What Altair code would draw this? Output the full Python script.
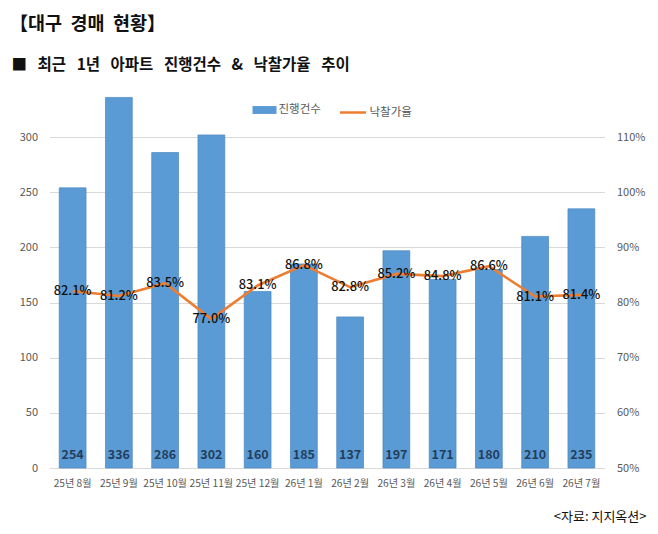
import altair as alt
import pandas as pd

months = ["25년 8월", "25년 9월", "25년 10월", "25년 11월", "25년 12월", "26년 1월",
          "26년 2월", "26년 3월", "26년 4월", "26년 5월", "26년 6월", "26년 7월"]
counts = [254, 336, 286, 302, 160, 185, 137, 197, 171, 180, 210, 235]
rates = [82.1, 81.2, 83.5, 77.0, 83.1, 86.8, 82.8, 85.2, 84.8, 86.6, 81.1, 81.4]
left_ticks = [0, 50, 100, 150, 200, 250, 300]
right_ticks = [50, 60, 70, 80, 90, 100, 110]

title_text = "【대구 경매 현황】"
subtitle_text = "■ 최근 1년 아파트 진행건수 & 낙찰가율 추이"
source_text = "<자료: 지지옥션>"

FONT = "Noto Sans CJK KR"

df = pd.DataFrame({"month": months, "count": counts, "rate": rates})
df["s1"] = "진행건수"
df["s2"] = "낙찰가율"

W, H = 555, 386

xenc = alt.X("month:N", sort=months, title=None,
             scale=alt.Scale(paddingInner=0.42, paddingOuter=0.21),
             axis=alt.Axis(labelAngle=0, ticks=False, domainColor="#D9D9D9",
                           labelFontSize=10.2, labelColor="#595959", labelPadding=10,
                           labelFont=FONT))

base = alt.Chart(df)

bars = base.mark_bar(color="#5B9BD5", stroke="#4A86BF", strokeWidth=0.7).encode(
    x=xenc,
    y=alt.Y("count:Q", title=None, scale=alt.Scale(domain=[0, 350], nice=False),
            axis=alt.Axis(values=left_ticks, ticks=False, domain=False,
                          gridColor="#D9D9D9", labelColor="#595959", labelFontSize=11,
                          labelPadding=12, labelFont=FONT)),
    color=alt.Color("s1:N", title=None,
                    scale=alt.Scale(domain=["진행건수"], range=["#5B9BD5"]),
                    legend=alt.Legend(orient="none", legendX=203, legendY=16,
                                      symbolType="M-1,-0.33H1V0.33H-1Z", symbolSize=576,
                                      symbolStrokeWidth=0, labelFontSize=11.5,
                                      labelColor="#595959", labelFont=FONT, labelOffset=2)),
)

bar_text = base.mark_text(fontWeight="bold", fontSize=12.5, color="#233E5C", font=FONT,
                          baseline="middle").encode(
    x=alt.X("month:N", sort=months),
    y=alt.value(373),
    text=alt.Text("count:Q"),
)

left = alt.layer(bars, bar_text)

line = base.mark_line(color="#ED7D31", strokeWidth=2.6).encode(
    x=alt.X("month:N", sort=months),
    y=alt.Y("rate:Q", title=None, scale=alt.Scale(domain=[50, 120], nice=False),
            axis=alt.Axis(orient="right", values=right_ticks, ticks=False, domain=False,
                          grid=False, labelExpr="datum.value + '%'", labelColor="#595959",
                          labelFontSize=11, labelPadding=12, labelFont=FONT)),
    stroke=alt.Stroke("s2:N", title=None,
                      scale=alt.Scale(domain=["낙찰가율"], range=["#ED7D31"]),
                      legend=alt.Legend(orient="none", legendX=289, legendY=16,
                                        symbolType="stroke", symbolSize=676,
                                        symbolStrokeWidth=2.5, labelFontSize=11.5,
                                        labelColor="#595959", labelFont=FONT, labelOffset=2)),
)

line_text = base.transform_calculate(
    label="format(datum.rate, '.1f') + '%'"
).mark_text(fontSize=12.8, color="#111111", font=FONT, fontWeight=500,
            baseline="middle").encode(
    x=alt.X("month:N", sort=months),
    y=alt.Y("rate:Q"),
    text="label:N",
)

right = alt.layer(line, line_text)

NBSP2 = "\u00a0\u00a0"
NBSP3 = "\u00a0\u00a0\u00a0"
one = alt.Data(values=[{"a": 1}])
t1 = alt.Chart(one).mark_text(align="left", baseline="middle", fontSize=18.5,
                              fontWeight="bold", font=FONT, color="#111111").encode(
    x=alt.value(-40), y=alt.value(-58), text=alt.value(title_text.replace(" ", NBSP2)))
t2 = alt.Chart(one).mark_text(align="left", baseline="middle", fontSize=15.5,
                              fontWeight="bold", font=FONT, color="#111111").encode(
    x=alt.value(-38), y=alt.value(-17), text=alt.value(subtitle_text.replace(" ", NBSP3)))
t3 = alt.Chart(one).mark_text(align="right", baseline="middle", fontSize=13,
                              font=FONT, color="#111111").encode(
    x=alt.value(597), y=alt.value(435), text=alt.value(source_text))

chart = alt.layer(left, right, t1, t2, t3).resolve_scale(
    y="independent", color="independent"
).properties(
    width=W, height=H,
    autosize=alt.AutoSizeParams(type="none"),
    padding={"left": 41.5, "top": 74, "right": 45.5, "bottom": 58},
    background="white",
).configure_view(stroke=None).configure_axis(labelColor="#595959")

chart.save("out.html", embed_options={"renderer": "svg", "actions": False})
